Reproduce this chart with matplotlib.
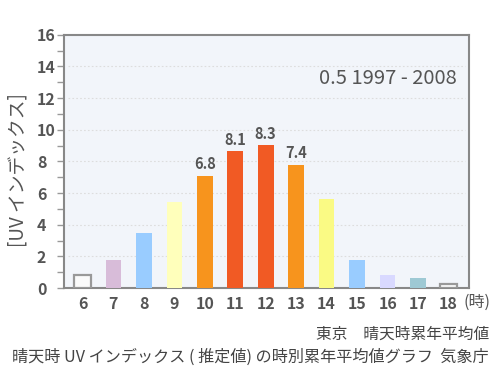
import matplotlib
matplotlib.use('Agg')
import matplotlib.pyplot as plt

plt.rcParams['font.family'] = ['Noto Sans CJK JP', 'DejaVu Sans']

hours = [6, 7, 8, 9, 10, 11, 12, 13, 14, 15, 16, 17, 18]
uv = [0.85, 1.75, 3.5, 5.45, 7.1, 8.65, 9.05, 7.8, 5.6, 1.8, 0.85, 0.65, 0.25]
colors = ['#fafafa', '#d8bcd9', '#99ccff', '#ffffbb', '#f7941d', '#f15a24', '#f15a24',
          '#f7941d', '#fafa84', '#99ccff', '#d9d9ff', '#9ec9d4', '#fafafa']
outlined = [6, 18]
value_labels = {10: '6.8', 11: '8.1', 12: '8.3', 13: '7.4'}

grey = '#555555'

fig = plt.figure(figsize=(5, 3.9), dpi=100)
ax = fig.add_axes([0.128, 0.2615, 0.81, 0.6495])
ax.set_facecolor('#f2f5fa')

for h, v, c in zip(hours, uv, colors):
    if h in outlined:
        ax.bar(h, v, width=0.56, color=c, edgecolor='#999999', linewidth=1.6, zorder=3)
    else:
        ax.bar(h, v, width=0.51, color=c, linewidth=0, zorder=3)
    if h in value_labels:
        ax.text(h, v + 0.2, value_labels[h], ha='center', va='bottom',
                fontsize=10.5, fontweight='bold', color=grey, zorder=4)

ax.set_xlim(5.38, 18.67)
ax.set_ylim(0, 16)
ax.set_yticks(range(0, 17, 2))
ax.set_yticks(range(1, 16, 2), minor=True)
ax.set_xticks(hours)
ax.tick_params(axis='x', length=0, pad=6, labelsize=11.5, labelcolor=grey)
ax.tick_params(axis='y', which='both', length=5, width=1, color='#999999', direction='out')
ax.tick_params(axis='y', which='major', pad=14.5, labelsize=11.5, labelcolor=grey)
for lab in ax.get_yticklabels():
    lab.set_ha('left')
    lab.set_fontweight('bold')
for lab in ax.get_xticklabels():
    lab.set_fontweight('bold')

for y in range(2, 16, 2):
    ax.axhline(y, xmin=0.01, xmax=0.99, color='#dddddd', linestyle=(0, (1.5, 2)),
               linewidth=0.8, zorder=1)

for s in ax.spines.values():
    s.set_color('#888888')
    s.set_linewidth(1.5)

ax.text(0.97, 0.828, '0.5 1997 - 2008', transform=ax.transAxes, ha='right', va='center',
        fontsize=14.5, color=grey)

fig.text(0.037, 0.564, '[UV インデックス]', rotation=90, ha='center', va='center',
         fontsize=13.5, color=grey)
fig.text(0.981, 0.226, '(時)', ha='right', va='center', fontsize=11.5, color=grey)

fig.text(0.978, 0.143, '東京　晴天時累年平均値', ha='right', va='center',
         fontsize=11.3, color='#444444')
fig.text(0.978, 0.085, '晴天時 UV インデックス ( 推定値) の時別累年平均値グラフ  気象庁',
         ha='right', va='center', fontsize=11.6, color='#444444')

fig.savefig('out.png', dpi=100)
